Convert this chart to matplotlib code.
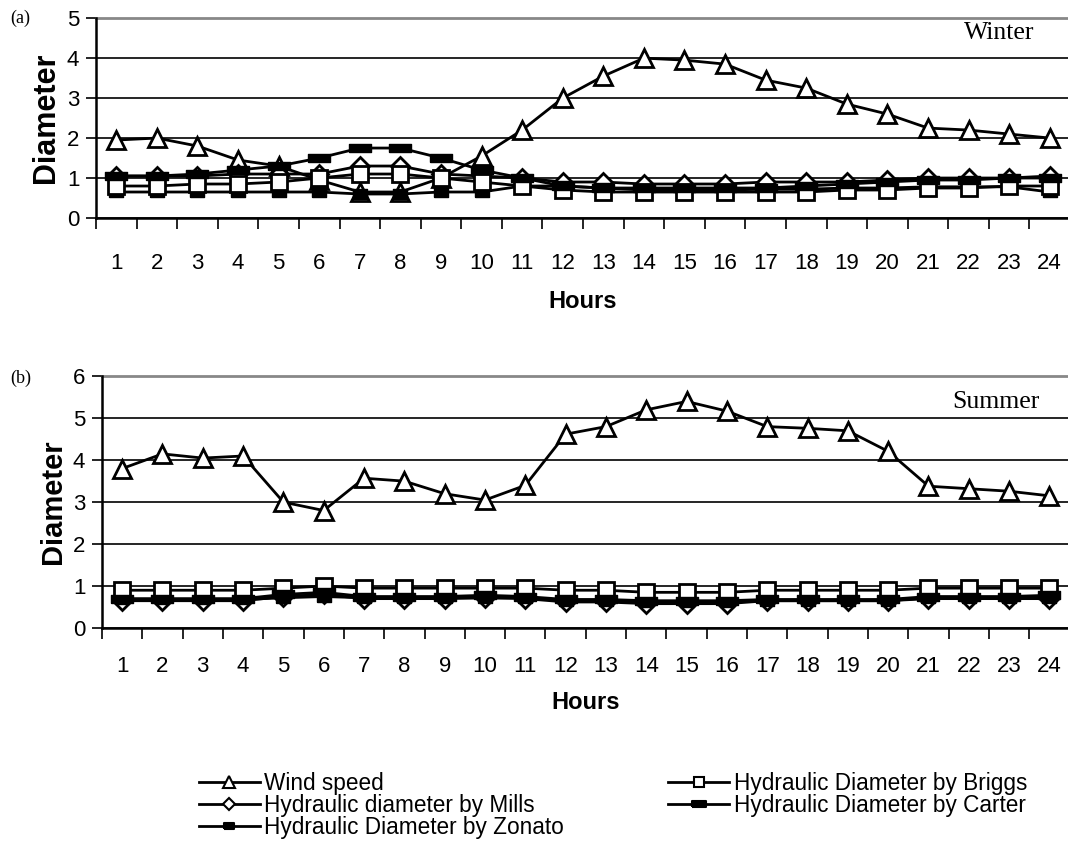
import matplotlib.pyplot as plt
import numpy as np

hours = list(range(1, 25))

# (a) Winter
w_wind = [1.95, 2.0, 1.8, 1.45, 1.3, 0.95, 0.65, 0.65, 1.0, 1.55, 2.2, 3.0,
          3.55, 4.0, 3.95, 3.85, 3.45, 3.25, 2.85, 2.6, 2.25, 2.2, 2.1, 2.0]
w_mills = [1.05, 1.05, 1.05, 1.1, 1.1, 1.1, 1.3, 1.3, 1.1, 1.05, 1.0, 0.9,
           0.9, 0.85, 0.85, 0.85, 0.9, 0.9, 0.9, 0.95, 1.0, 1.0, 1.0, 1.05]
w_briggs = [0.8, 0.8, 0.85, 0.85, 0.9, 1.0, 1.1, 1.1, 1.0, 0.9, 0.8, 0.7,
            0.65, 0.65, 0.65, 0.65, 0.65, 0.65, 0.7, 0.7, 0.75, 0.75, 0.8, 0.8]
w_carter = [1.05, 1.05, 1.1, 1.2, 1.3, 1.5, 1.75, 1.75, 1.5, 1.2, 1.0, 0.8,
            0.75, 0.75, 0.75, 0.75, 0.75, 0.8, 0.85, 0.9, 0.95, 0.95, 1.0, 1.0]
w_zonato = [0.65, 0.65, 0.65, 0.65, 0.65, 0.65, 0.6, 0.6, 0.65, 0.65, 0.8, 0.8,
            0.75, 0.7, 0.7, 0.7, 0.72, 0.72, 0.75, 0.75, 0.78, 0.78, 0.78, 0.65]

# (b) Summer
s_wind = [3.8, 4.15, 4.05, 4.1, 3.0, 2.8, 3.57, 3.5, 3.2, 3.05, 3.4, 4.62,
          4.8, 5.2, 5.4, 5.17, 4.8, 4.76, 4.7, 4.21, 3.38, 3.32, 3.26, 3.15]
s_mills = [0.65, 0.65, 0.65, 0.65, 0.75, 0.8, 0.7, 0.7, 0.7, 0.72, 0.7, 0.62,
           0.62, 0.58, 0.58, 0.58, 0.65, 0.65, 0.65, 0.65, 0.7, 0.7, 0.7, 0.7]
s_briggs = [0.9, 0.9, 0.9, 0.9, 0.95, 1.0, 0.95, 0.95, 0.95, 0.95, 0.95, 0.9,
            0.9, 0.85, 0.85, 0.85, 0.9, 0.9, 0.9, 0.9, 0.95, 0.95, 0.95, 0.95]
s_carter = [0.7, 0.7, 0.7, 0.7, 0.8, 0.85, 0.75, 0.75, 0.75, 0.78, 0.75, 0.68,
            0.68, 0.65, 0.65, 0.65, 0.68, 0.68, 0.68, 0.68, 0.75, 0.75, 0.75, 0.78]
s_zonato = [0.68, 0.68, 0.68, 0.68, 0.72, 0.75, 0.72, 0.72, 0.72, 0.72, 0.72, 0.65,
            0.65, 0.62, 0.62, 0.62, 0.65, 0.65, 0.65, 0.65, 0.72, 0.72, 0.72, 0.72]

labels = ['Wind speed', 'Hydraulic diameter by Mills', 'Hydraulic Diameter by Zonato',
          'Hydraulic Diameter by Briggs', 'Hydraulic Diameter by Carter']

plt.rcParams['font.family'] = ['Liberation Sans', 'DejaVu Sans']

wide_rect = [(-1.0, -0.4), (1.0, -0.4), (1.0, 0.4), (-1.0, 0.4), (-1.0, -0.4)]
small_rect = [(-0.7, -0.5), (0.7, -0.5), (0.7, 0.5), (-0.7, 0.5), (-0.7, -0.5)]

styles = [
    dict(marker='^', ms=13, mfc='white', mec='black', mew=2),
    dict(marker='D', ms=9, mfc='white', mec='black', mew=2),
    dict(marker=small_rect, ms=10, mfc='black', mec='black', mew=1),
    dict(marker='s', ms=12, mfc='white', mec='black', mew=2),
    dict(marker=wide_rect, ms=16, mfc='black', mec='black', mew=1),
]


def draw(ax, series, ymax, season, pos, ylab_size, xpad):
    for vals, st, lab in zip(series, styles, labels):
        ax.plot(hours, vals, color='black', lw=2, label=lab, **st)
    ax.set_xlim(0.5, 24.5)
    ax.set_ylim(0, ymax)
    ax.set_yticks(range(0, ymax + 1))
    ax.set_xticks(hours)
    ax.set_xticks(np.arange(0.5, 24.6, 1), minor=True)
    ax.tick_params(axis='x', which='major', length=0, labelsize=16, pad=xpad)
    ax.tick_params(axis='x', which='minor', length=8, width=1.2)
    ax.tick_params(axis='y', length=7, width=1.2, labelsize=16, pad=5)
    ax.grid(axis='y', color='black', lw=1.2)
    ax.set_axisbelow(True)
    for s in ['top', 'right']:
        ax.spines[s].set_visible(False)
    ax.spines['left'].set_linewidth(1.8)
    ax.spines['bottom'].set_linewidth(1.8)
    ax.axhline(ymax, color='#888888', lw=2, clip_on=False)
    ax.set_ylabel('Diameter', fontsize=ylab_size, fontweight='bold', labelpad=4)
    ax.text(pos[0], pos[1], season, transform=ax.transAxes, fontsize=18.5,
            family='Liberation Serif', ha='center', va='center')


fig = plt.figure(figsize=(10.68, 8.65), dpi=100)
ax1 = fig.add_axes([0.0899, 0.748, 0.912, 0.231])
ax2 = fig.add_axes([0.0955, 0.274, 0.906, 0.291])

draw(ax1, [w_wind, w_mills, w_zonato, w_briggs, w_carter], 5, 'Winter',
     (0.927, 0.925), 22, 25)
ax1.set_xlabel('Hours', fontsize=17, fontweight='bold', labelpad=12)
draw(ax2, [s_wind, s_mills, s_zonato, s_briggs, s_carter], 6, 'Summer',
     (0.924, 0.897), 21, 20)
ax2.set_xlabel('Hours', fontsize=17, fontweight='bold', labelpad=10)

fig.text(0.0095, 1 - 18 / 865, '(a)', fontsize=13, family='Liberation Serif',
         ha='left', va='center')
fig.text(0.0095, 1 - 378 / 865, '(b)', fontsize=13, family='Liberation Serif',
         ha='left', va='center')

leg_handles = []
for st in styles:
    st2 = dict(st)
    st2['ms'] = st['ms'] * 0.65
    st2['mew'] = 1.5
    h, = ax2.plot([], [], color='black', lw=2, **st2)
    leg_handles.append(h)
fig.legend(leg_handles, labels, ncol=2, loc='upper left',
           bbox_to_anchor=(0.186, 1 - 772 / 865), frameon=False, fontsize=16.3,
           handlelength=2.7, handletextpad=0.2, columnspacing=4.6,
           labelspacing=-0.05, borderaxespad=0, borderpad=0)

fig.savefig('out.png', dpi=100)
